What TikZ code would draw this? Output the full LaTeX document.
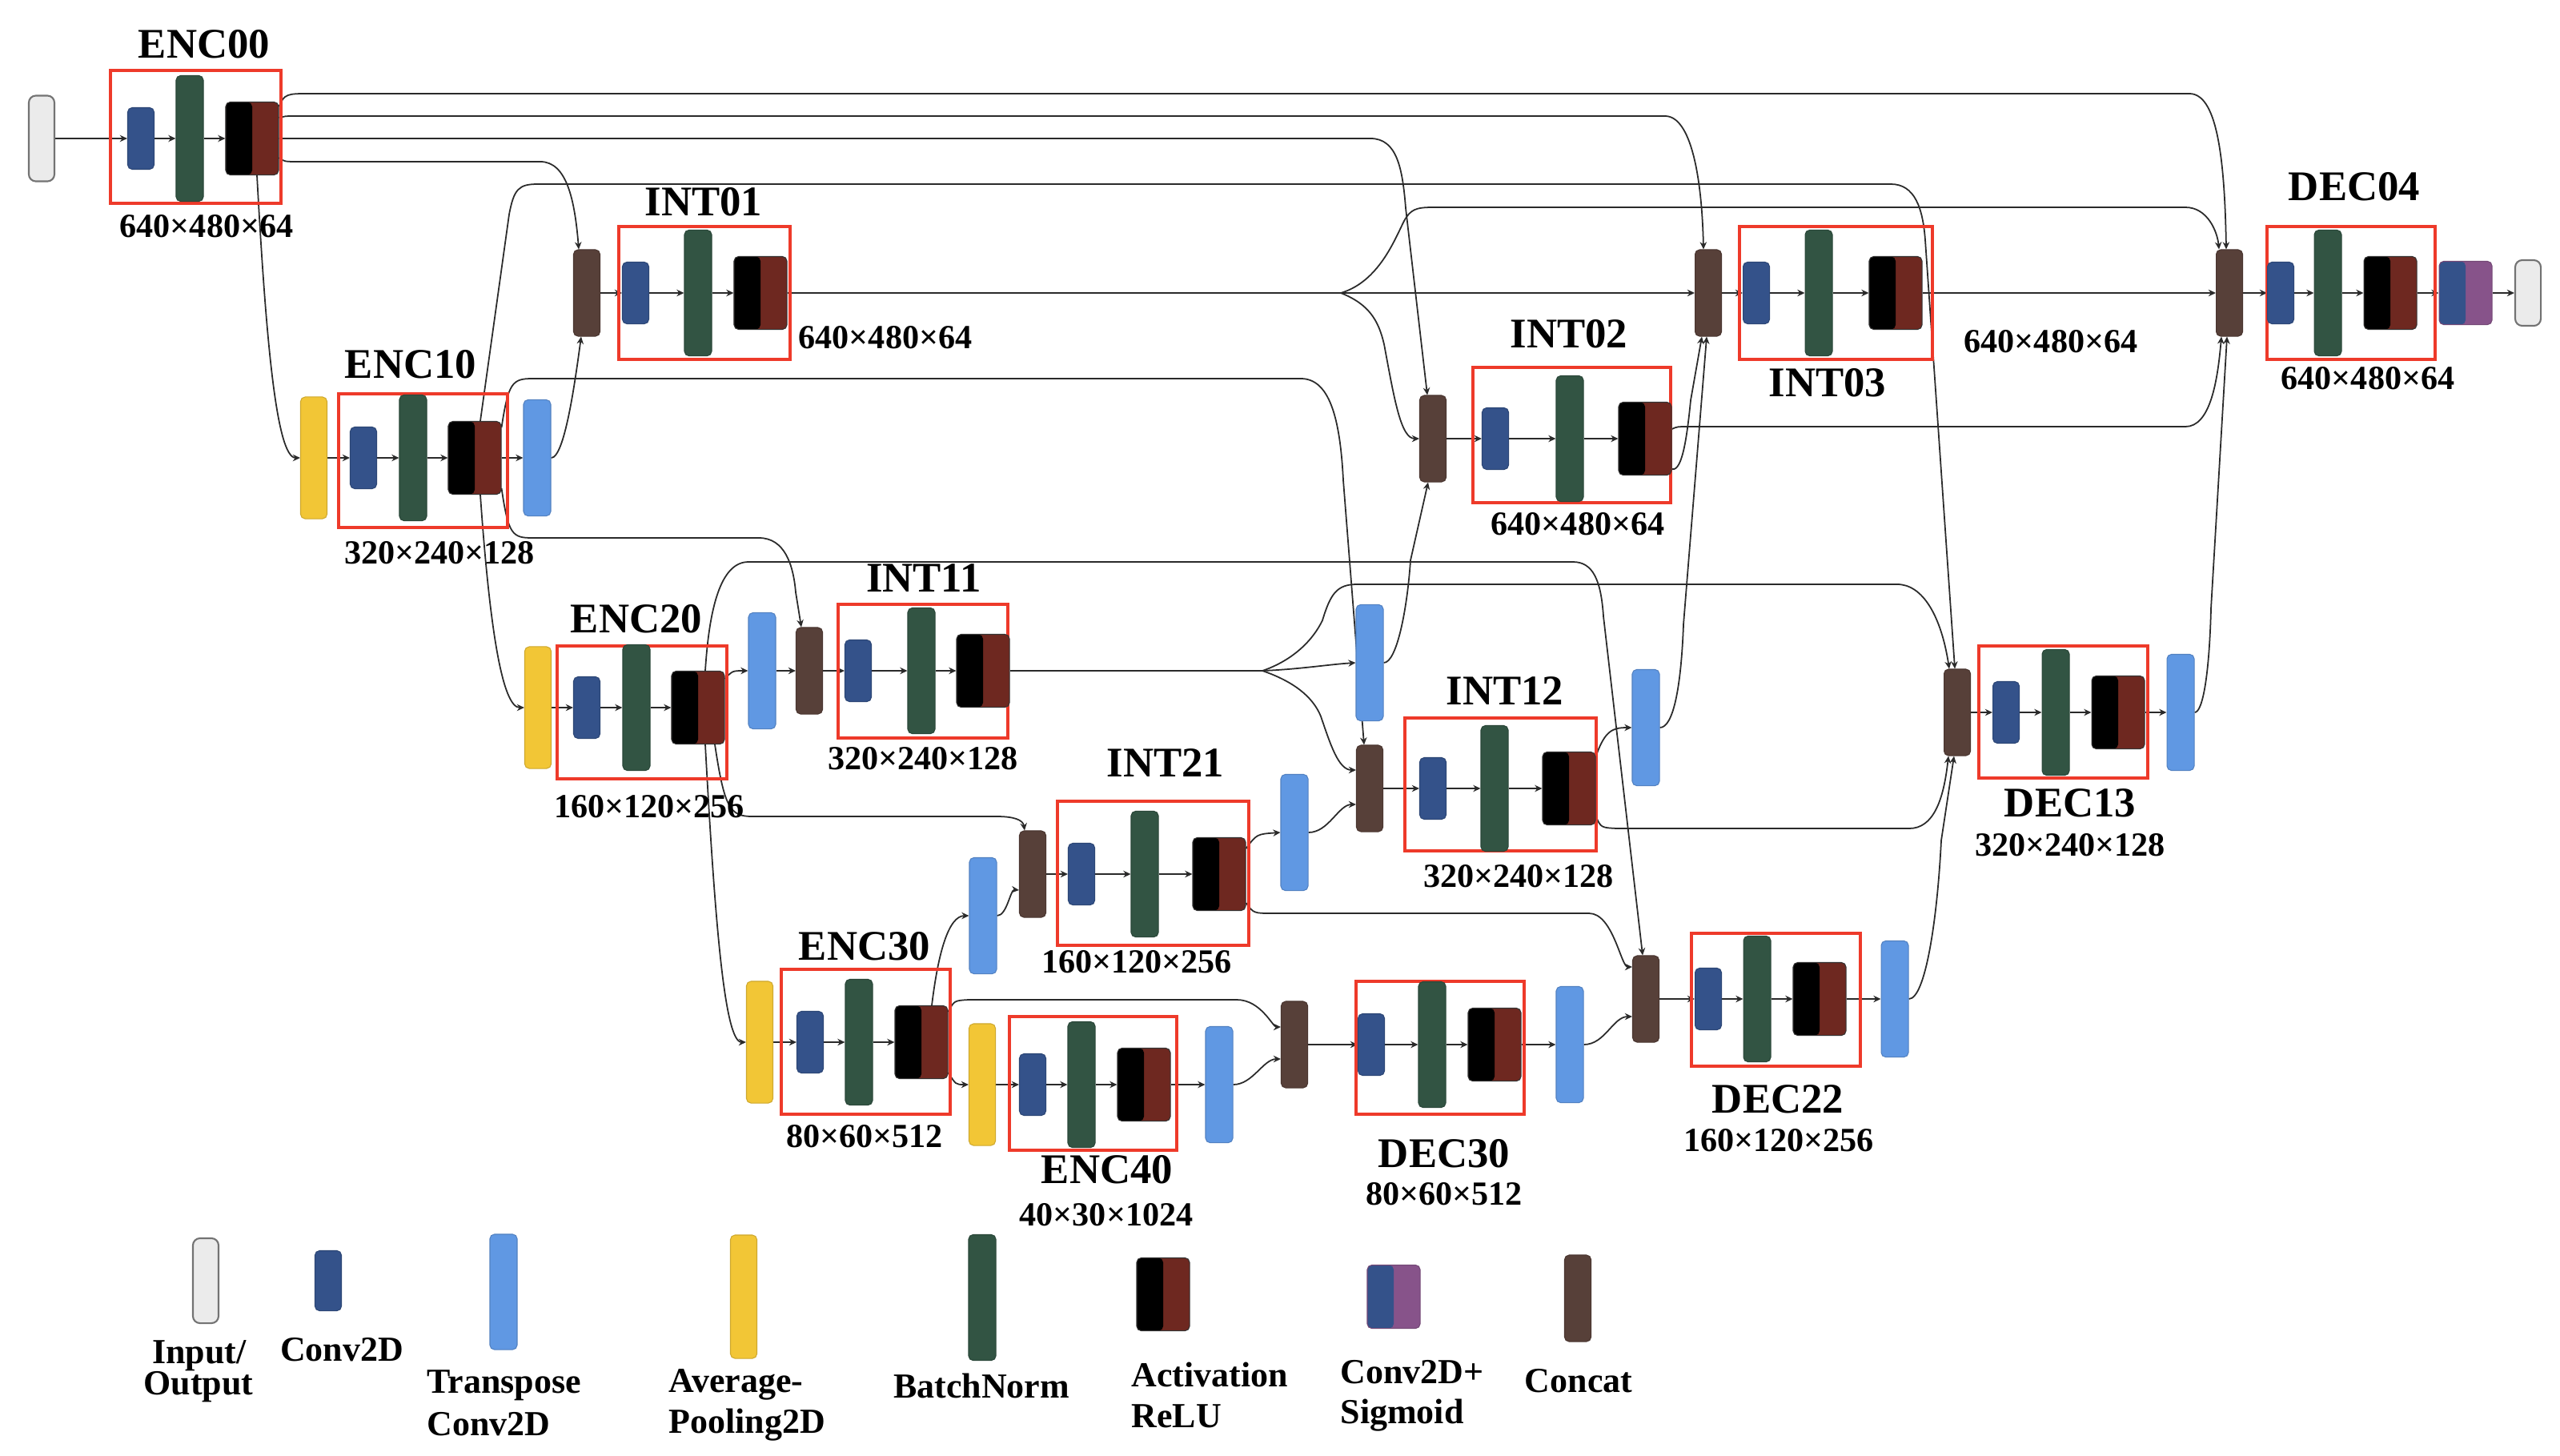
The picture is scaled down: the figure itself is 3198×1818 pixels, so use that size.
\documentclass[tikz,border=0pt]{standalone}
\usepackage{fontspec}
\setmainfont{Liberation Serif}
\usetikzlibrary{arrows.meta,calc}
\definecolor{cconv}{HTML}{34528A}
\definecolor{cbn}{HTML}{325443}
\definecolor{cact}{HTML}{6E2820}
\definecolor{ccat}{HTML}{574039}
\definecolor{cup}{HTML}{6098E3}
\definecolor{cpool}{HTML}{F2C636}
\definecolor{cio}{HTML}{EBEBEB}
\definecolor{csig}{HTML}{87538A}
\definecolor{cred}{HTML}{EE3A2A}
\definecolor{cline}{HTML}{2A2A2A}
\pgfdeclarelayer{back}
\pgfdeclarelayer{wires}
\pgfsetlayers{back,wires,main}
\tikzset{
  blk/.style={rectangle, rounded corners=1.6pt, inner sep=0pt, draw=#1!85!black, line width=0.3pt, fill=#1},
  convb/.style={blk=cconv, minimum width=0.33cm, minimum height=0.77cm},
  bnb/.style={blk=cbn, minimum width=0.34cm, minimum height=1.57cm},
  actb/.style={blk=cact, draw=black!80, minimum width=0.66cm, minimum height=0.91cm,
    path picture={\fill[black] (path picture bounding box.south west) rectangle (path picture bounding box.north);}},
  sigb/.style={blk=csig, minimum width=0.66cm, minimum height=0.79cm,
    path picture={\fill[cconv] (path picture bounding box.south west) rectangle (path picture bounding box.north);}},
  catb/.style={blk=ccat, minimum width=0.33cm, minimum height=1.08cm},
  upb/.style={blk=cup, minimum width=0.34cm, minimum height=1.45cm},
  poolb/.style={blk=cpool, minimum width=0.33cm, minimum height=1.52cm},
  iob/.style={rectangle, rounded corners=2.5pt, inner sep=0pt, draw=black!55, line width=0.6pt, fill=cio, minimum width=0.32cm},
  redb/.style={rectangle, draw=cred, line width=1.1pt, inner sep=0pt},
  ttl/.style={font=\fontsize{15}{18}\selectfont\bfseries, inner sep=0pt},
  dimt/.style={font=\fontsize{12}{14}\selectfont\bfseries, inner sep=0pt},
  leg/.style={font=\fontsize{12.5}{15}\selectfont\bfseries, inner sep=0pt},
  ln/.style={draw=cline, line width=0.5pt},
  arr/.style={-{Stealth[length=2.6pt,width=2.4pt]}},
}
\newcommand\redframe[5]{\node[redb, minimum width={(#4-#2)*0.01cm}, minimum height={(#5-#3)*0.01cm}] (#1) at ({(#2+#4)/2},{(#3+#5)/2}) {};}
\begin{document}
\begin{tikzpicture}[x=0.01cm, y=-0.01cm]
\useasboundingbox (0,0) rectangle (3198,1818);
\begin{pgfonlayer}{back}
\fill[white] (0,0) rectangle (3198,1818);
\end{pgfonlayer}

% ---------------- red frames
\redframe{r00}{138}{88}{351}{254}
\redframe{r01}{773}{283}{987}{449}
\redframe{r02}{1840}{459}{2087}{628}
\redframe{r03}{2173}{283}{2414}{449}
\redframe{r04}{2832}{283}{3042}{449}
\redframe{r10}{423}{492}{634}{659}
\redframe{r20}{696}{807}{908}{973}
\redframe{r11}{1047}{755}{1259}{922}
\redframe{r12}{1755}{897}{1994}{1063}
\redframe{r13}{2472}{807}{2683}{972}
\redframe{r21}{1321}{1001}{1560}{1181}
\redframe{r30}{976}{1211}{1187}{1392}
\redframe{r40}{1261}{1270}{1470}{1437}
\redframe{rd30}{1694}{1226}{1904}{1392}
\redframe{r22}{2113}{1166}{2324}{1332}

% ---------------- blocks
% level 0
\node[iob, minimum height=1.07cm] (in) at (52,173) {};
\node[convb] (e00c) at (176,173) {};
\node[bnb] (e00b) at (237,173) {};
\node[actb] (e00a) at (315,173) {};

\node[catb] (c01) at (733,366) {};
\node[convb] (i01c) at (794,366) {};
\node[bnb] (i01b) at (872,366) {};
\node[actb] (i01a) at (950,366) {};

\node[catb] (c02) at (1790,548) {};
\node[convb] (i02c) at (1868,548) {};
\node[bnb] (i02b) at (1961,548) {};
\node[actb] (i02a) at (2055,548) {};

\node[catb] (c03) at (2134,366) {};
\node[convb] (i03c) at (2194,366) {};
\node[bnb] (i03b) at (2272,366) {};
\node[actb] (i03a) at (2368,366) {};

\node[catb] (c04) at (2785,366) {};
\node[convb] (d04c) at (2849,366) {};
\node[bnb] (d04b) at (2908,366) {};
\node[actb] (d04a) at (2986,366) {};
\node[sigb] (sg) at (3080,366) {};
\node[iob, minimum height=0.82cm] (out) at (3158,366) {};

% level 1
\node[poolb] (p10) at (392,572) {};
\node[convb] (e10c) at (454,572) {};
\node[bnb] (e10b) at (516,572) {};
\node[actb] (e10a) at (593,572) {};
\node[upb] (u10) at (671,572) {};

\node[upb] (u20) at (952,838) {};
\node[catb] (c11) at (1011,838) {};
\node[convb] (i11c) at (1072,838) {};
\node[bnb] (i11b) at (1151,838) {};
\node[actb] (i11a) at (1228,838) {};

\node[upb] (u11) at (1711,828) {};
\node[catb] (c12) at (1711,985) {};
\node[convb] (i12c) at (1790,985) {};
\node[bnb] (i12b) at (1867,985) {};
\node[actb] (i12a) at (1960,985) {};
\node[upb] (u12) at (2056,909) {};

\node[catb] (c13) at (2445,890) {};
\node[convb] (d13c) at (2506,890) {};
\node[bnb] (d13b) at (2568,890) {};
\node[actb] (d13a) at (2646,890) {};
\node[upb] (u13) at (2724,890) {};

% level 2
\node[poolb] (p20) at (672,884) {};
\node[convb] (e20c) at (733,884) {};
\node[bnb] (e20b) at (795,884) {};
\node[actb] (e20a) at (872,884) {};

\node[upb] (u30) at (1228,1144) {};
\node[catb] (c21) at (1290,1092) {};
\node[convb] (i21c) at (1351,1092) {};
\node[bnb] (i21b) at (1430,1092) {};
\node[actb] (i21a) at (1523,1092) {};
\node[upb] (u21) at (1617,1040) {};

\node[catb] (c22) at (2056,1248) {};
\node[convb] (d22c) at (2134,1248) {};
\node[bnb] (d22b) at (2195,1248) {};
\node[actb] (d22a) at (2273,1248) {};
\node[upb] (u22) at (2367,1248) {};

% level 3 / 4
\node[poolb] (p30) at (949,1302) {};
\node[convb] (e30c) at (1012,1302) {};
\node[bnb] (e30b) at (1073,1302) {};
\node[actb] (e30a) at (1151,1302) {};

\node[poolb] (p40) at (1227,1355) {};
\node[convb] (e40c) at (1290,1355) {};
\node[bnb] (e40b) at (1351,1355) {};
\node[actb] (e40a) at (1429,1355) {};
\node[upb] (u40) at (1523,1355) {};

\node[catb] (c30) at (1617,1305) {};
\node[convb] (d30c) at (1713,1305) {};
\node[bnb] (d30b) at (1789,1305) {};
\node[actb] (d30a) at (1867,1305) {};
\node[upb] (u31) at (1961,1305) {};

% ---------------- titles and sizes
\node[ttl] (t00) at (255,55) {ENC00};
\node[dimt] (s00) at (258,283) {640×480×64};
\node[ttl] (t01) at (879,252) {INT01};
\node[dimt] (s01) at (1106,422) {640×480×64};
\node[ttl] (t02) at (1960,417) {INT02};
\node[dimt] (s02) at (1971,655) {640×480×64};
\node[ttl] (t03) at (2283,478) {INT03};
\node[dimt] (s03) at (2562,427) {640×480×64};
\node[ttl] (t04) at (2941,233) {DEC04};
\node[dimt] (s04) at (2958,473) {640×480×64};
\node[ttl] (t10) at (513,455) {ENC10};
\node[dimt] (s10) at (549,691) {320×240×128};
\node[ttl] (t20) at (795,773) {ENC20};
\node[dimt] (s20) at (811,1008) {160×120×256};
\node[ttl] (t11) at (1154,722) {INT11};
\node[dimt] (s11) at (1153,948) {320×240×128};
\node[ttl] (t12) at (1880,863) {INT12};
\node[dimt] (s12) at (1897,1095) {320×240×128};
\node[ttl] (t13) at (2586,1003) {DEC13};
\node[dimt] (s13) at (2586,1056) {320×240×128};
\node[ttl] (t21) at (1456,953) {INT21};
\node[dimt] (s21) at (1420,1202) {160×120×256};
\node[ttl] (t30) at (1080,1182) {ENC30};
\node[dimt] (s30) at (1080,1420) {80×60×512};
\node[ttl] (t40) at (1383,1461) {ENC40};
\node[dimt] (s40) at (1382,1518) {40×30×1024};
\node[ttl] (td30) at (1804,1441) {DEC30};
\node[dimt] (sd30) at (1804,1492) {80×60×512};
\node[ttl] (t22) at (2221,1373) {DEC22};
\node[dimt] (s22) at (2222,1425) {160×120×256};

% ---------------- legend
\node[iob, minimum height=1.06cm] (l1) at (257,1600) {};
\node[convb, minimum height=0.75cm] (l2) at (410,1600) {};
\node[upb, minimum height=1.44cm] (l3) at (629,1614) {};
\node[poolb, minimum height=1.54cm] (l4) at (929,1620) {};
\node[bnb] (l5) at (1227,1621) {};
\node[actb] (l6) at (1453,1617) {};
\node[sigb] (l7) at (1741,1620) {};
\node[catb] (l8) at (1971,1622) {};
\node[leg, anchor=base] (lt1a) at (249,1703) {Input/};
\node[leg, anchor=base] (lt1b) at (248,1742) {Output};
\node[leg, anchor=base] (lt2) at (427,1700) {Conv2D};
\node[leg, anchor=base west] (lt3a) at (533,1740) {Transpose};
\node[leg, anchor=base west] (lt3b) at (533,1793) {Conv2D};
\node[leg, anchor=base west] (lt4a) at (835,1739) {Average-};
\node[leg, anchor=base west] (lt4b) at (835,1790) {Pooling2D};
\node[leg, anchor=base] (lt5) at (1226,1746) {BatchNorm};
\node[leg, anchor=base west] (lt6a) at (1413,1732) {Activation};
\node[leg, anchor=base west] (lt6b) at (1413,1783) {ReLU};
\node[leg, anchor=base west] (lt7a) at (1674,1728) {Conv2D+};
\node[leg, anchor=base west] (lt7b) at (1674,1778) {Sigmoid};
\node[leg, anchor=base] (lt8) at (1972,1739) {Concat};

% ---------------- connectors
\begin{pgfonlayer}{wires}
\coordinate (fk1) at (1675,366);
\coordinate (fk2) at (1577,838);
% straight row arrows
\foreach \a/\b in {in/e00c,e00c/e00b,e00b/e00a,
  c01/i01c,i01c/i01b,i01b/i01a,
  c02/i02c,i02c/i02b,i02b/i02a,
  c03/i03c,i03c/i03b,i03b/i03a,i03a/c04,
  c04/d04c,d04c/d04b,d04b/d04a,d04a/sg,sg/out,
  p10/e10c,e10c/e10b,e10b/e10a,e10a/u10,
  p20/e20c,e20c/e20b,e20b/e20a,
  u20/c11,c11/i11c,i11c/i11b,i11b/i11a,
  c12/i12c,i12c/i12b,i12b/i12a,
  c13/d13c,d13c/d13b,d13b/d13a,d13a/u13,
  c21/i21c,i21c/i21b,i21b/i21a,
  p30/e30c,e30c/e30b,e30b/e30a,
  p40/e40c,e40c/e40b,e40b/e40a,e40a/u40,
  c30/d30c,d30c/d30b,d30b/d30a,d30a/u31,
  c22/d22c,d22c/d22b,d22b/d22a,d22a/u22}
  {\draw[ln,arr] (\a) -- (\b);}
\draw[ln] (i01a.east) -- (fk1);
\draw[ln] (i11a.east) -- (fk2);
\draw[ln,arr] (fk1) -- (c03.west);

% ENC00 skips
\draw[ln,arr] ($(e00a.east)+(0,-40)$) .. controls (355,117) and (360,117) .. (385,117) -- (2735,117) .. controls (2768,117) and (2779,190) .. ($(c04.north)+(-4,0)$);
\draw[ln,arr] ($(e00a.east)+(0,-26)$) .. controls (355,145) .. (375,145) -- (2080,145) .. controls (2112,145) and (2126,220) .. ($(c03.north)+(-6,0)$);
\draw[ln,arr] (e00a.east) -- (1712,173) .. controls (1745,173) and (1752,210) .. (1756,260) -- ($(c02.north)+(-7,0)$);
\draw[ln,arr] ($(e00a.east)+(0,24)$) .. controls (355,202) .. (375,202) -- (675,202) .. controls (708,202) and (718,250) .. ($(c01.north)+(-10,0)$);
\draw[ln,arr] ($(e00a.south)+(6,0)$) .. controls (332,420) and (345,572) .. (p10.west);

% ENC10
\draw[ln,arr] (u10.east) .. controls (705,572) and (718,480) .. ($(c01.south)+(-7,0)$);
\draw[ln,arr] ($(e10a.north)+(7,0)$) -- (636,268) .. controls (642,236) and (648,230) .. (672,230) -- (2362,230) .. controls (2392,230) and (2402,260) .. (2405,300) -- ($(c13.north)+(-3,0)$);
\draw[ln,arr] ($(e10a.east)+(0,-38)$) .. controls (635,478) and (640,473) .. (665,473) -- (1625,473) .. controls (1660,473) and (1674,520) .. (1678,600) -- ($(c12.north)+(-7,0)$);
\draw[ln,arr] ($(e10a.east)+(0,38)$) .. controls (635,668) and (640,672) .. (665,672) -- (948,672) .. controls (980,672) and (991,705) .. (994,740) -- ($(c11.north)+(-10,0)$);
\draw[ln,arr] ($(e10a.south)+(7,0)$) .. controls (612,790) and (628,884) .. (p20.west);

% INT01 fork
\draw[ln,arr] (fk1) .. controls (1722,352) and (1742,300) .. (1754,276) .. controls (1762,262) and (1768,259) .. (1790,259) -- (2730,259) .. controls (2758,259) and (2770,290) .. ($(c04.north)+(-13,0)$);
\draw[ln,arr] (fk1) .. controls (1710,380) and (1722,400) .. (1729,430) .. controls (1742,500) and (1750,548) .. (c02.west);

% INT02
\draw[ln,arr] ($(i02a.east)+(0,38)$) .. controls (2102,590) and (2108,540) .. (2112,500) -- ($(c03.south)+(-8,0)$);
\draw[ln,arr] ($(i02a.east)+(0,-12)$) .. controls (2095,533) .. (2110,533) -- (2730,533) .. controls (2760,533) and (2770,480) .. ($(c04.south)+(-10,0)$);

% ENC20
\draw[ln,arr] ($(e20a.east)+(0,-36)$) .. controls (915,838) .. (u20.west);
\draw[ln,arr] ($(e20a.north)+(9,0)$) .. controls (886,760) and (900,702) .. (935,702) -- (1965,702) .. controls (1990,702) and (2000,725) .. (2003,770) -- ($(c22.north)+(-4,0)$);
\draw[ln,arr] ($(e20a.south)+(21,0)$) .. controls (905,1010) and (912,1020) .. (940,1020) -- (1245,1020) .. controls (1266,1020) and (1278,1024) .. ($(c21.north)+(-10,0)$);
\draw[ln,arr] ($(e20a.south)+(9,0)$) .. controls (893,1150) and (905,1302) .. (p30.west);

% INT11 fork
\draw[ln,arr] (fk2) .. controls (1625,836) and (1660,830) .. (u11.west);
\draw[ln,arr] (fk2) .. controls (1615,825) and (1640,800) .. (1652,775) .. controls (1662,742) and (1670,730) .. (1695,730) -- (2370,730) .. controls (2402,730) and (2425,770) .. ($(c13.north)+(-10,0)$);
\draw[ln,arr] (fk2) .. controls (1615,851) and (1640,870) .. (1650,895) .. controls (1662,930) and (1672,962) .. ($(c12.west)+(0,-23)$);
\draw[ln,arr] (u11.east) .. controls (1745,828) and (1758,760) .. (1762,700) -- ($(c02.south)+(-6,0)$);

% INT12
\draw[ln,arr] ($(i12a.east)+(0,-40)$) .. controls (2005,912) and (2015,909) .. (u12.west);
\draw[ln,arr] (u12.east) .. controls (2090,909) and (2100,860) .. (2103,780) -- ($(c03.south)+(-2,0)$);
\draw[ln,arr] ($(i12a.east)+(0,35)$) .. controls (2000,1034) .. (2020,1035) -- (2385,1035) .. controls (2415,1035) and (2428,1000) .. ($(c13.south)+(-11,0)$);

% INT21
\draw[ln,arr] (u30.east) .. controls (1258,1144) and (1262,1111) .. ($(c21.west)+(0,20)$);
\draw[ln,arr] ($(i21a.east)+(0,-32)$) .. controls (1570,1042) .. (u21.west);
\draw[ln,arr] (u21.east) .. controls (1660,1040) and (1672,1005) .. ($(c12.west)+(0,20)$);
\draw[ln,arr] ($(i21a.east)+(0,36)$) .. controls (1566,1141) .. (1590,1141) -- (1985,1141) .. controls (2015,1141) and (2025,1208) .. ($(c22.west)+(0,-40)$);

% ENC30 / ENC40
\draw[ln,arr] ($(e30a.north)+(13,0)$) .. controls (1172,1190) and (1185,1144) .. (u30.west);
\draw[ln,arr] ($(e30a.east)+(0,-38)$) .. controls (1192,1250) .. (1210,1249) -- (1545,1249) .. controls (1575,1249) and (1590,1283) .. ($(c30.west)+(0,-22)$);
\draw[ln,arr] ($(e30a.east)+(0,38)$) .. controls (1194,1355) .. (p40.west);
\draw[ln,arr] (u40.east) .. controls (1565,1355) and (1578,1323) .. ($(c30.west)+(0,18)$);

% DEC30 / DEC22 / DEC13
\draw[ln,arr] (u31.east) .. controls (2005,1305) and (2015,1270) .. ($(c22.west)+(0,22)$);
\draw[ln,arr] (u22.east) .. controls (2405,1248) and (2420,1150) .. (2425,1050) -- ($(c13.south)+(-4,0)$);
\draw[ln,arr] (u13.east) .. controls (2752,890) and (2760,840) .. (2762,760) -- ($(c04.south)+(-3,0)$);
\end{pgfonlayer}
\end{tikzpicture}
\end{document}
